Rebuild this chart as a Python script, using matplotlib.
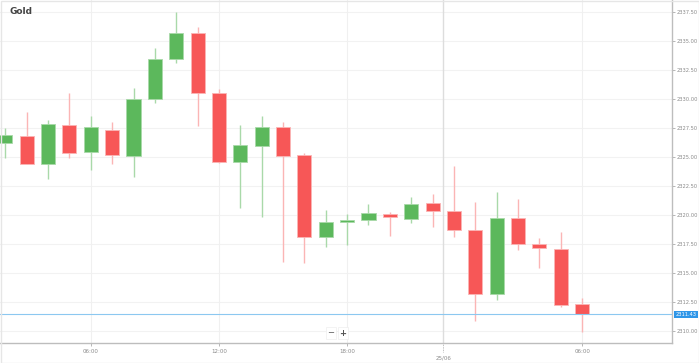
import matplotlib
matplotlib.use("Agg")
import matplotlib.pyplot as plt
from matplotlib.patches import Rectangle

# ---- data (hourly candles) ----
opens  = [2326.21, 2326.83, 2324.42, 2327.76, 2325.41, 2327.33, 2325.09, 2330.00,
          2333.45, 2335.69, 2330.54, 2324.54, 2325.97, 2327.56, 2325.15, 2318.10,
          2319.44, 2319.54, 2320.09, 2319.63, 2321.01, 2320.34, 2318.71, 2313.19,
          2319.74, 2317.53, 2317.09, 2312.30]
highs  = [2327.50, 2328.91, 2328.16, 2330.49, 2328.53, 2328.04, 2330.92, 2334.41,
          2337.50, 2336.23, 2330.84, 2327.76, 2328.56, 2328.04, 2325.37, 2320.43,
          2320.09, 2320.95, 2320.23, 2321.58, 2321.84, 2324.22, 2321.09, 2321.96,
          2321.38, 2318.02, 2318.53, 2312.84]
lows   = [2324.91, 2324.37, 2323.08, 2324.94, 2323.85, 2324.40, 2323.28, 2329.68,
          2333.08, 2327.70, 2324.44, 2320.58, 2319.83, 2315.95, 2315.84, 2317.22,
          2317.41, 2319.11, 2318.22, 2319.31, 2318.97, 2318.08, 2310.84, 2312.70,
          2316.96, 2315.43, 2312.09, 2309.89]
closes = [2326.90, 2324.42, 2327.82, 2325.34, 2327.56, 2325.15, 2330.00, 2333.47,
          2335.69, 2330.54, 2324.54, 2326.01, 2327.56, 2325.09, 2318.10, 2319.42,
          2319.54, 2320.15, 2319.83, 2320.95, 2320.34, 2318.71, 2313.19, 2319.77,
          2317.50, 2317.13, 2312.27, 2311.43]
last_price = 2311.43
ytick_values = [2310.00, 2312.50, 2315.00, 2317.50, 2320.00, 2322.50,
                2325.00, 2327.50, 2330.00, 2332.50, 2335.00, 2337.50]
xtick_pos = [4, 10, 16, 27]
xtick_labels = ["06:00", "12:00", "18:00", "06:00"]
day_pos = 20.5
day_label = "25/06"
title = "Gold"

GREEN = "#5cb85c"
RED = "#f75757"
GREEN_W = "#a9d9a9"
RED_W = "#fbb5b5"

W, H = 699, 363
fig = plt.figure(figsize=(W / 100, H / 100), dpi=100)
ax = fig.add_axes([0 / W, 20 / H, 672 / W, 343 / H])

xs = list(range(len(opens)))
for x, o, h, l, c in zip(xs, opens, highs, lows, closes):
    up = c >= o
    wc = GREEN_W if up else RED_W
    bc = GREEN if up else RED
    ax.vlines(x, l, h, color=wc, linewidth=1.0, zorder=2)
    bottom = min(o, c)
    height = max(abs(c - o), 0.08)
    ax.bar(x, height, bottom=bottom, width=0.66, color=bc,
           edgecolor=wc, linewidth=0.6, zorder=3)

ax.set_xlim(-0.25, 31.21)
ax.set_ylim(2308.97, 2338.53)

# grid
for y in ytick_values:
    ax.axhline(y, color="#f2f2f2", linewidth=0.8, zorder=0)
for x in xtick_pos:
    ax.axvline(x, color="#f0f0f0", linewidth=0.8, zorder=0)
ax.axvline(day_pos, color="#dddddd", linewidth=1.0, zorder=0)

# last price line
ax.axhline(last_price, color="#8cc8f0", linewidth=0.8, zorder=4)

# axes styling
ax.yaxis.tick_right()
ax.set_yticks(ytick_values)
ax.set_yticklabels([f"{v:.2f}" for v in ytick_values])
ax.tick_params(axis="y", labelsize=3.7, colors="#9a9a9a", length=2, width=0.5, pad=1.5)
ax.set_xticks(xtick_pos)
ax.set_xticklabels(xtick_labels)
ax.tick_params(axis="x", labelsize=4.0, colors="#9a9a9a", length=2, width=0.5, pad=2)
for t in ax.get_yticklabels() + ax.get_xticklabels():
    t.set_color("#8a8a8a")
for s in ["top", "left"]:
    ax.spines[s].set_visible(False)
for s in ["right", "bottom"]:
    ax.spines[s].set_color("#bdbdbd")
    ax.spines[s].set_linewidth(1.0)

# day separator tick + label
ax.plot([day_pos, day_pos], [0, -0.025], transform=ax.get_xaxis_transform(),
        color="#aaaaaa", linewidth=0.6, linestyle=(0, (1, 1)), clip_on=False)
ax.text(day_pos, -0.036, day_label, transform=ax.get_xaxis_transform(),
        ha="center", va="top", fontsize=4.0, color="#8a8a8a")

# last price label
ax.text(1.005, last_price, f"{last_price:.2f}", transform=ax.get_yaxis_transform(),
        ha="left", va="center", fontsize=3.7, color="white",
        bbox=dict(boxstyle="square,pad=0.25", fc="#2f96e8", ec="none"), zorder=10,
        clip_on=False)

# title
fig.text(10 / W, 1 - 11 / H, title, ha="left", va="center", fontsize=6.5,
         fontweight="bold", color="#444444")

# zoom control
fig.text(331 / W, 1 - 333 / H, "\u2212", ha="center", va="center", fontsize=6,
         color="#555555", bbox=dict(boxstyle="square,pad=0.2", fc="white", ec="#eeeeee", lw=0.5))
fig.text(343 / W, 1 - 333 / H, "+", ha="center", va="center", fontsize=6,
         color="#555555", fontweight="bold",
         bbox=dict(boxstyle="square,pad=0.2", fc="white", ec="#eeeeee", lw=0.5))

# outer border
fig.patches.append(Rectangle((0.5 / W, 0.5 / H), 1 - 1 / W, 1 - 1 / H,
                             transform=fig.transFigure, fill=False,
                             edgecolor="#e6e6e6", linewidth=1.0))

fig.savefig("out.png", dpi=100)
